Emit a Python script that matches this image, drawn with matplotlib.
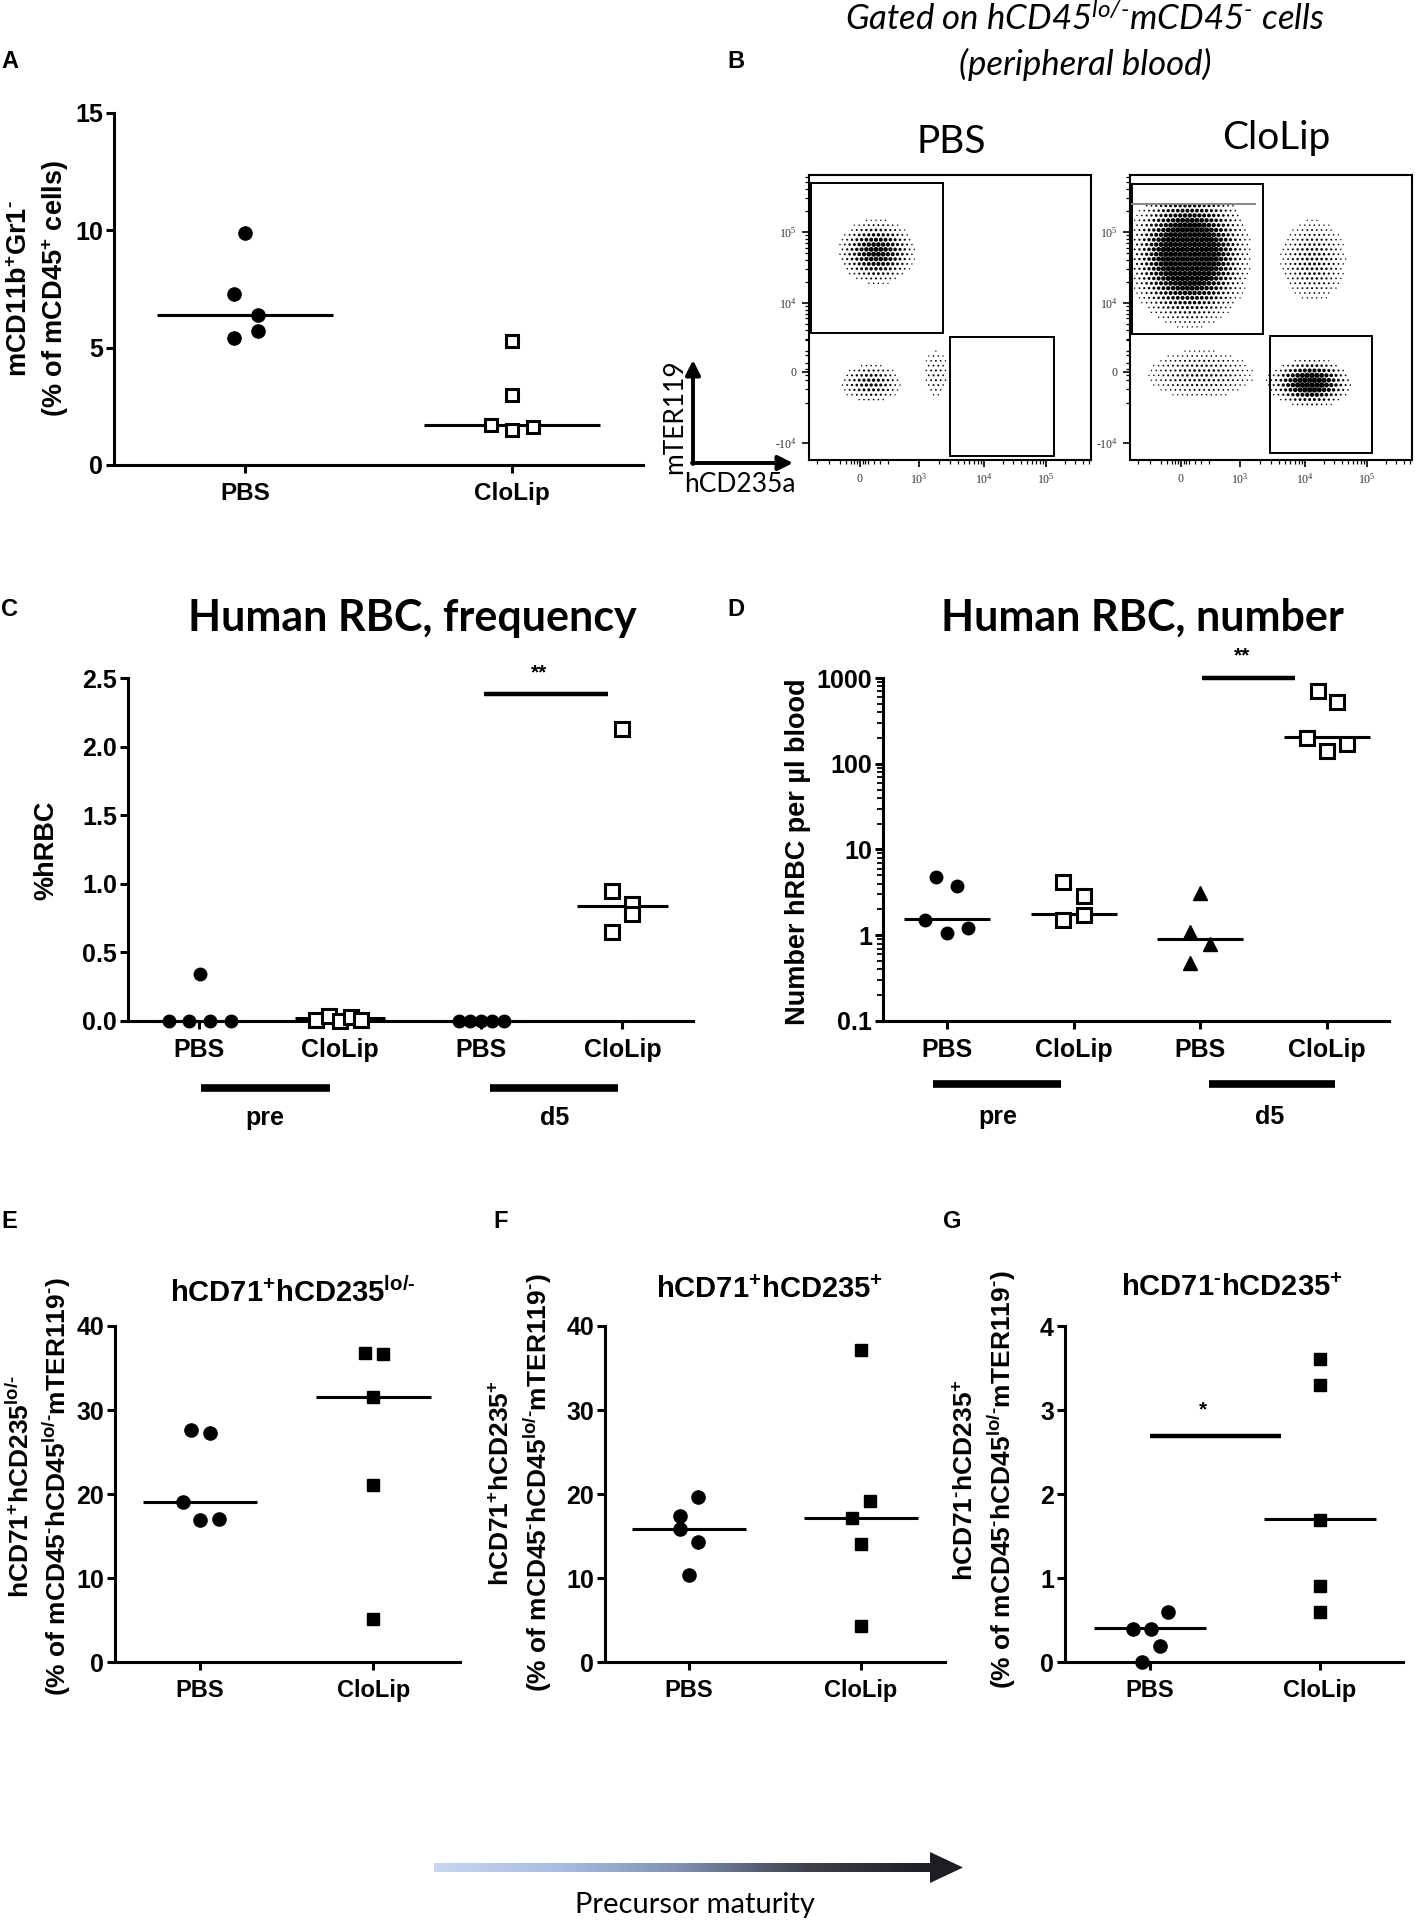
import numpy as np
import matplotlib
matplotlib.use('Agg')
import matplotlib.pyplot as plt
import matplotlib.transforms as mtransforms
from matplotlib.colors import LinearSegmentedColormap
from matplotlib.patches import Polygon, Rectangle
from matplotlib.ticker import LogLocator, NullFormatter

plt.rcParams['font.family'] = ['Liberation Sans', 'DejaVu Sans']
plt.rcParams['font.weight'] = 'bold'
plt.rcParams['mathtext.default'] = 'regular'

W, H = 1418, 1921

# =====================================================================
# data
groups2 = ['PBS', 'CloLip']
groups4 = ['PBS', 'CloLip', 'PBS', 'CloLip']
timepoints = ['pre', 'd5']

# A  mCD11b+Gr1- (% of mCD45+ cells)
a_pbs = [9.9, 7.3, 6.4, 5.7, 5.4]
a_pbs_jit = [0.0, -0.04, 0.05, 0.05, -0.04]
a_clo = [5.3, 3.0, 1.7, 1.5, 1.6]
a_clo_jit = [0.0, 0.0, -0.08, 0.0, 0.08]
a_median = [6.4, 1.7]

# C  %hRBC
c_pbs_pre = [0.0, 0.0, 0.34, 0.0, 0.0]
c_pbs_pre_jit = [-0.21, -0.065, 0.01, 0.08, 0.23]
c_clo_pre = [0.01, 0.04, 0.0, 0.03, 0.01]
c_clo_pre_jit = [-0.17, -0.08, 0.0, 0.08, 0.15]
c_pbs_d5 = [0.0, 0.0, 0.0, 0.0, 0.0]
c_pbs_d5_jit = [-0.16, -0.08, 0.0, 0.08, 0.16]
c_clo_d5 = [2.13, 0.95, 0.85, 0.78, 0.65]
c_clo_d5_jit = [0.0, -0.07, 0.07, 0.07, -0.07]
c_median = [0.0, 0.02, 0.0, 0.84]
c_sig = (2.02, 2.9, 2.38)

# D  number hRBC per ul blood
d_pbs_pre = [4.8, 3.8, 1.5, 1.07, 1.22]
d_pbs_pre_jit = [-0.09, 0.08, -0.17, 0.0, 0.17]
d_clo_pre = [4.2, 2.9, 1.7, 1.5]
d_clo_pre_jit = [-0.085, 0.085, 0.085, -0.085]
d_pbs_d5 = [3.1, 1.1, 0.79, 0.48]
d_pbs_d5_jit = [0.0, -0.08, 0.08, -0.08]
d_clo_d5 = [700, 520, 200, 140, 170]
d_clo_d5_jit = [-0.07, 0.08, -0.16, 0.0, 0.16]
d_median = [1.53, 1.78, 0.9, 207]
d_sig = (2.015, 2.75, 1000)

# E  hCD71+hCD235lo/-
e_pbs = [27.6, 27.3, 19.0, 16.9, 17.0]
e_pbs_jit = [-0.05, 0.06, -0.1, 0.0, 0.11]
e_clo = [36.8, 36.7, 31.5, 21.1, 5.1]
e_clo_jit = [-0.05, 0.055, 0.0, 0.0, 0.0]
e_median = [19.0, 31.5]

# F  hCD71+hCD235+
f_pbs = [19.6, 17.4, 15.8, 14.3, 10.4]
f_pbs_jit = [0.053, -0.055, -0.055, 0.053, 0.0]
f_clo = [37.1, 19.2, 17.2, 14.1, 4.3]
f_clo_jit = [0.0, 0.055, -0.053, 0.0, 0.0]
f_median = [15.8, 17.2]

# G  hCD71-hCD235+
g_pbs = [0.59, 0.39, 0.39, 0.19, 0.0]
g_pbs_jit = [0.104, -0.102, 0.004, 0.059, -0.049]
g_clo = [3.61, 3.30, 1.69, 0.90, 0.59]
g_clo_jit = [0.0, 0.0, 0.0, 0.0, 0.0]
g_median = [0.4, 1.7]
g_sig = (0.0, 0.77, 2.69)

# B  flow plots: populations (x centre, y centre, x spread, y spread, density)
pbs_pops = [(0.24, 0.73, 0.06, 0.05, 0.85),
            (0.22, 0.27, 0.055, 0.035, 0.4),
            (0.45, 0.30, 0.03, 0.06, 0.16)]
clo_pops = [(0.21, 0.72, 0.085, 0.10, 1.8),
            (0.65, 0.70, 0.065, 0.08, 0.3),
            (0.64, 0.27, 0.06, 0.035, 1.3),
            (0.25, 0.30, 0.11, 0.05, 0.25)]
pbs_gates = [(0.007, 0.444, 0.469, 0.528), (0.50, 0.014, 0.368, 0.419)]
clo_gates = [(0.007, 0.443, 0.465, 0.527), (0.495, 0.023, 0.362, 0.412)]
flow_xticks = [0.18, 0.39, 0.62, 0.84]
flow_xticklabels = ['0', '10$^3$', '10$^4$', '10$^5$']
flow_yticks = [0.06, 0.31, 0.55, 0.80]
flow_yticklabels = ['-10$^4$', '0', '10$^4$', '10$^5$']

HY = '\u2010'  # short hyphen for the superscripts


def hy(s):
    return s.replace('$^{-}$', '$^{' + HY + '}$').replace('lo/-', 'lo/' + HY)


# =====================================================================
fig = plt.figure(figsize=(W / 100, H / 100), dpi=100)
fig.patch.set_facecolor('white')


def box(l, t, r, b):
    return fig.add_axes([l / W, 1 - b / H, (r - l) / W, (b - t) / H])


def style(ax, xlim, ylim, yticks, ylabels, cats, fs_tick=18, fs_cat=17.5, log=False):
    if log:
        ax.set_yscale('log')
    ax.set_xlim(xlim)
    ax.set_ylim(ylim)
    ax.spines['top'].set_visible(False)
    ax.spines['right'].set_visible(False)
    for s in ('left', 'bottom'):
        ax.spines[s].set_linewidth(2.2)
    ax.set_yticks(yticks)
    ax.set_yticklabels(ylabels, fontsize=fs_tick)
    if log:
        ax.yaxis.set_minor_locator(LogLocator(base=10, subs=np.arange(2, 10)))
        ax.yaxis.set_minor_formatter(NullFormatter())
        ax.tick_params(axis='y', which='minor', length=4, width=1.3)
    ax.set_xticks(range(len(cats)))
    ax.set_xticklabels(cats, fontsize=fs_cat)
    ax.tick_params(axis='both', which='major', width=2.2, length=6)
    ax.tick_params(axis='y', pad=2)
    ax.tick_params(axis='x', pad=6)
    ax.patch.set_alpha(0)


def group(ax, x, vals, jit, marker, filled=True, ms=9.5):
    xs = [x + j for j in jit]
    if filled:
        ax.plot(xs, vals, ls='none', marker=marker, ms=ms, color='black',
                clip_on=False, zorder=4)
    else:
        ax.plot(xs, vals, ls='none', marker=marker, ms=ms, mfc='white',
                mec='black', mew=2.2, clip_on=False, zorder=4)


def median_line(ax, x, val, hw=0.34):
    ax.plot([x - hw, x + hw], [val, val], color='black', lw=2.2,
            solid_capstyle='butt', zorder=3, clip_on=False)


def sig_bar(ax, x0, x1, y, stars, ys):
    ax.plot([x0, x1], [y, y], color='black', lw=3.2, solid_capstyle='butt',
            clip_on=False)
    ax.text((x0 + x1) / 2 - 0.05, ys, stars, ha='center', va='center', fontsize=15)


def time_bars(ax, spans, labels, label_x, ybar, ylab):
    tr = mtransforms.blended_transform_factory(ax.transData, ax.transAxes)
    for (x0, x1), lab, lx in zip(spans, labels, label_x):
        ax.plot([x0, x1], [ybar, ybar], color='black', lw=5.5, transform=tr,
                clip_on=False, solid_capstyle='butt')
        ax.text(lx, ylab, lab, transform=tr, ha='center', va='center', fontsize=18)


# ---- A
axA = box(114, 113, 643, 465)
style(axA, (-0.49, 1.49), (0, 15), [0, 5, 10, 15], ['0', '5', '10', '15'], groups2)
group(axA, 0, a_pbs, a_pbs_jit, 'o')
group(axA, 1, a_clo, a_clo_jit, 's', filled=False, ms=9)
for i, m in enumerate(a_median):
    median_line(axA, i, m, 0.33)

# ---- C
axC = box(128, 678, 693, 1021)
style(axC, (-0.5, 3.5), (0, 2.5), [0, 0.5, 1.0, 1.5, 2.0, 2.5],
      ['0.0', '0.5', '1.0', '1.5', '2.0', '2.5'], groups4, fs_cat=18)
group(axC, 0, c_pbs_pre, c_pbs_pre_jit, 'o', ms=9)
group(axC, 1, c_clo_pre, c_clo_pre_jit, 's', filled=False, ms=9.5)
group(axC, 2, c_pbs_d5, c_pbs_d5_jit, 'o', ms=9)
group(axC, 3, c_clo_d5, c_clo_d5_jit, 's', filled=False, ms=9.5)
for i, m in enumerate(c_median):
    median_line(axC, i, m, 0.32)
sig_bar(axC, c_sig[0], c_sig[1], c_sig[2], '**', 2.54)
time_bars(axC, [(0.02, 0.93), (2.06, 2.97)], timepoints, [0.47, 2.52], -0.195, -0.284)

# ---- D
axD = box(883, 678, 1389, 1021)
style(axD, (-0.505, 3.49), (0.1, 1000), [0.1, 1, 10, 100, 1000],
      ['0.1', '1', '10', '100', '1000'], groups4, fs_cat=18, log=True)
group(axD, 0, d_pbs_pre, d_pbs_pre_jit, 'o', ms=9)
group(axD, 1, d_clo_pre, d_clo_pre_jit, 's', filled=False, ms=9.5)
group(axD, 2, d_pbs_d5, d_pbs_d5_jit, '^', ms=10)
group(axD, 3, d_clo_d5, d_clo_d5_jit, 's', filled=False, ms=9.5)
for i, m in enumerate(d_median):
    median_line(axD, i, m, 0.34)
sig_bar(axD, d_sig[0], d_sig[1], d_sig[2], '**', 1800)
time_bars(axD, [(-0.11, 0.9), (2.07, 3.06)], timepoints, [0.4, 2.55], -0.184, -0.28)

# ---- E, F, G
axE = box(115, 1326, 460, 1662)
style(axE, (-0.49, 1.5), (0, 40), [0, 10, 20, 30, 40], ['0', '10', '20', '30', '40'],
      groups2, fs_cat=17)
group(axE, 0, e_pbs, e_pbs_jit, 'o')
group(axE, 1, e_clo, e_clo_jit, 's', ms=9)
for i, m in enumerate(e_median):
    median_line(axE, i, m, 0.33)

axF = box(605, 1326, 945, 1662)
style(axF, (-0.49, 1.49), (0, 40), [0, 10, 20, 30, 40], ['0', '10', '20', '30', '40'],
      groups2, fs_cat=17)
group(axF, 0, f_pbs, f_pbs_jit, 'o')
group(axF, 1, f_clo, f_clo_jit, 's', ms=9)
for i, m in enumerate(f_median):
    median_line(axF, i, m, 0.33)

axG = box(1065, 1326, 1403, 1662)
style(axG, (-0.5, 1.49), (0, 4), [0, 1, 2, 3, 4], ['0', '1', '2', '3', '4'],
      groups2, fs_cat=17)
group(axG, 0, g_pbs, g_pbs_jit, 'o')
group(axG, 1, g_clo, g_clo_jit, 's', ms=9)
for i, m in enumerate(g_median):
    median_line(axG, i, m, 0.33)
axG.plot([g_sig[0], g_sig[1]], [g_sig[2], g_sig[2]], color='black', lw=3.2,
         solid_capstyle='butt')
axG.text(0.31, 3.0, '*', ha='center', va='center', fontsize=15)


# ---- B flow plots (density of each population drawn as a dot screen)
def flow(ax, pops, gates, top_clip=None):
    ax.set_xlim(0, 1)
    ax.set_ylim(0, 1)
    step = 0.017
    rows = np.arange(0.008, 1, step)
    gx, gy = [], []
    for k, yy in enumerate(rows):
        xs = np.arange(0.008 + (step / 2) * (k % 2), 1, step)
        gx.append(xs)
        gy.append(np.full_like(xs, yy))
    gx = np.concatenate(gx)
    gy = np.concatenate(gy)
    dens = np.zeros_like(gx)
    for cx, cy, sx, sy, w in pops:
        dens += w * np.exp(-0.5 * (((gx - cx) / sx) ** 2 + ((gy - cy) / sy) ** 2))
    if top_clip is not None:
        dens[gy > top_clip] = 0
    size = 15 * np.clip(dens, 0, 1)
    m = dens > 0.06
    ax.scatter(gx[m], gy[m], s=size[m], c='black', marker='o', linewidths=0)
    for x, y, w, h in gates:
        ax.add_patch(Rectangle((x, y), w, h, fill=False, lw=1.4, ec='black'))
    for s in ax.spines.values():
        s.set_linewidth(1.5)
    ax.set_xticks(flow_xticks)
    ax.set_xticklabels(flow_xticklabels, fontsize=8.5, family='Liberation Serif',
                       fontweight='normal', color='#333333')
    ax.set_yticks(flow_yticks)
    ax.set_yticklabels(flow_yticklabels, fontsize=8.5, family='Liberation Serif',
                       fontweight='normal', color='#333333')
    xminor = [0.03, 0.07, 0.11, 0.13, 0.15, 0.16, 0.17, 0.19, 0.2, 0.21, 0.23, 0.25, 0.28]
    for a, b in ((0.39, 0.62), (0.62, 0.84), (0.84, 1.06)):
        xminor += [a + (b - a) * np.log10(k) for k in range(2, 10) if a + (b - a) * np.log10(k) < 1]
    yminor = [0.2, 0.25, 0.28, 0.3, 0.32, 0.34, 0.37, 0.42]
    for a, b in ((0.31, 0.55), (0.55, 0.80), (0.80, 1.05)):
        yminor += [a + (b - a) * np.log10(k) for k in range(2, 10) if a + (b - a) * np.log10(k) < 1]
    ax.set_xticks(xminor, minor=True)
    ax.set_yticks(yminor, minor=True)
    ax.tick_params(which='major', length=5, width=1.2, pad=4)
    ax.tick_params(which='minor', length=3, width=0.9)


axB1 = box(809, 175, 1091, 460)
flow(axB1, pbs_pops, pbs_gates)
axB2 = box(1130, 175, 1412, 460)
flow(axB2, clo_pops, clo_gates, top_clip=0.9)
axB2.plot([0.007, 0.445], [0.898, 0.898], color='#888888', lw=1.4)

# =====================================================================
# overlay for labels, arrows
ov = fig.add_axes([0, 0, 1, 1])
ov.patch.set_alpha(0)

for lab, x, y in (('A', 1, 62), ('B', 727, 61), ('C', 1, 610), ('D', 727, 610),
                  ('E', 1, 1222), ('F', 493, 1222), ('G', 943, 1222)):
    ov.text(x, y, lab, fontsize=17, ha='left', va='center')

# y labels
ov.text(39, 289, hy('mCD11b$^{+}$Gr1$^{-}$\n(% of mCD45$^{+}$ cells)'), rotation=90,
        ha='center', va='center', fontsize=19.5, multialignment='center', linespacing=1.3)
ov.text(46, 850, '%hRBC', rotation=90, ha='center', va='center', fontsize=19.5)
ov.text(798, 852, 'Number hRBC per µl blood', rotation=90, ha='center', va='center',
        fontsize=19.5)
sub2 = '(% of mCD45$^{-}$hCD45$^{lo/-}$mTER119$^{-}$)'
ov.text(40, 1487, hy('hCD71$^{+}$hCD235$^{lo/-}$\n' + sub2), rotation=90, ha='center',
        va='center', fontsize=19, multialignment='center', linespacing=1.3)
ov.text(522, 1483, hy('hCD71$^{+}$hCD235$^{+}$\n' + sub2), rotation=90, ha='center',
        va='center', fontsize=19, multialignment='center', linespacing=1.3)
ov.text(986, 1480, hy('hCD71$^{-}$hCD235$^{+}$\n' + sub2), rotation=90, ha='center',
        va='center', fontsize=19, multialignment='center', linespacing=1.3)

# titles
ov.text(412, 618, 'Human RBC, frequency', ha='center', va='center', fontsize=31,
        family=['Lato', 'DejaVu Sans'])
ov.text(1142, 618, 'Human RBC, number', ha='center', va='center', fontsize=31,
        family=['Lato', 'DejaVu Sans'])
ov.text(293, 1293, hy('hCD71$^{+}$hCD235$^{lo/-}$'), ha='center', va='center', fontsize=21)
ov.text(770, 1290, 'hCD71$^{+}$hCD235$^{+}$', ha='center', va='center', fontsize=21)
ov.text(1232, 1288, hy('hCD71$^{-}$hCD235$^{+}$'), ha='center', va='center', fontsize=21)

# B header
ov.text(1085, 19, hy('Gated on hCD45$^{lo/-}$mCD45$^{-}$ cells'), ha='center', va='center',
        fontsize=25, fontstyle='italic', fontweight='normal', family=['Lato', 'DejaVu Sans'])
ov.text(1085, 64, '(peripheral blood)', ha='center', va='center', fontsize=25,
        fontstyle='italic', fontweight='normal', family=['Lato', 'DejaVu Sans'])
ov.text(951, 142, 'PBS', ha='center', va='center', fontsize=28, fontweight='normal',
        family=['Lato', 'DejaVu Sans'])
ov.text(1276, 138, 'CloLip', ha='center', va='center', fontsize=28, fontweight='normal',
        family=['Lato', 'DejaVu Sans'])

# axis arrows of the flow plots
ov.annotate('', xy=(693, 360), xytext=(693, 464),
            arrowprops=dict(arrowstyle='-|>', lw=2.8, color='black', mutation_scale=22,
                            shrinkA=0, shrinkB=0))
ov.annotate('', xy=(793, 463), xytext=(692, 463),
            arrowprops=dict(arrowstyle='-|>', lw=2.8, color='black', mutation_scale=22,
                            shrinkA=0, shrinkB=0))
ov.text(675, 417, 'mTER119', rotation=90, ha='center', va='center', fontsize=19,
        fontweight='normal', family=['Lato', 'DejaVu Sans'])
ov.text(740, 484, 'hCD235a', ha='center', va='center', fontsize=19,
        fontweight='normal', family=['Lato', 'DejaVu Sans'])

# maturity arrow
grad = LinearSegmentedColormap.from_list(
    'mat', ['#c8d6ef', '#a9bce2', '#7e8fb0', '#3c414c', '#1c1e24'])
ov.imshow(np.linspace(0, 1, 256)[None, :], cmap=grad, aspect='auto',
          extent=[434, 932, 1872, 1863])
ov.add_patch(Polygon([(930, 1852), (963, 1867.5), (930, 1883)], closed=True,
                     color='#1c1e24', lw=0))
ov.text(695, 1905, 'Precursor maturity', ha='center', va='center', fontsize=21,
        fontweight='normal', family=['Lato', 'DejaVu Sans'])

ov.set_xlim(0, W)
ov.set_ylim(H, 0)
ov.axis('off')

fig.savefig('out.png', dpi=100, facecolor='white')
